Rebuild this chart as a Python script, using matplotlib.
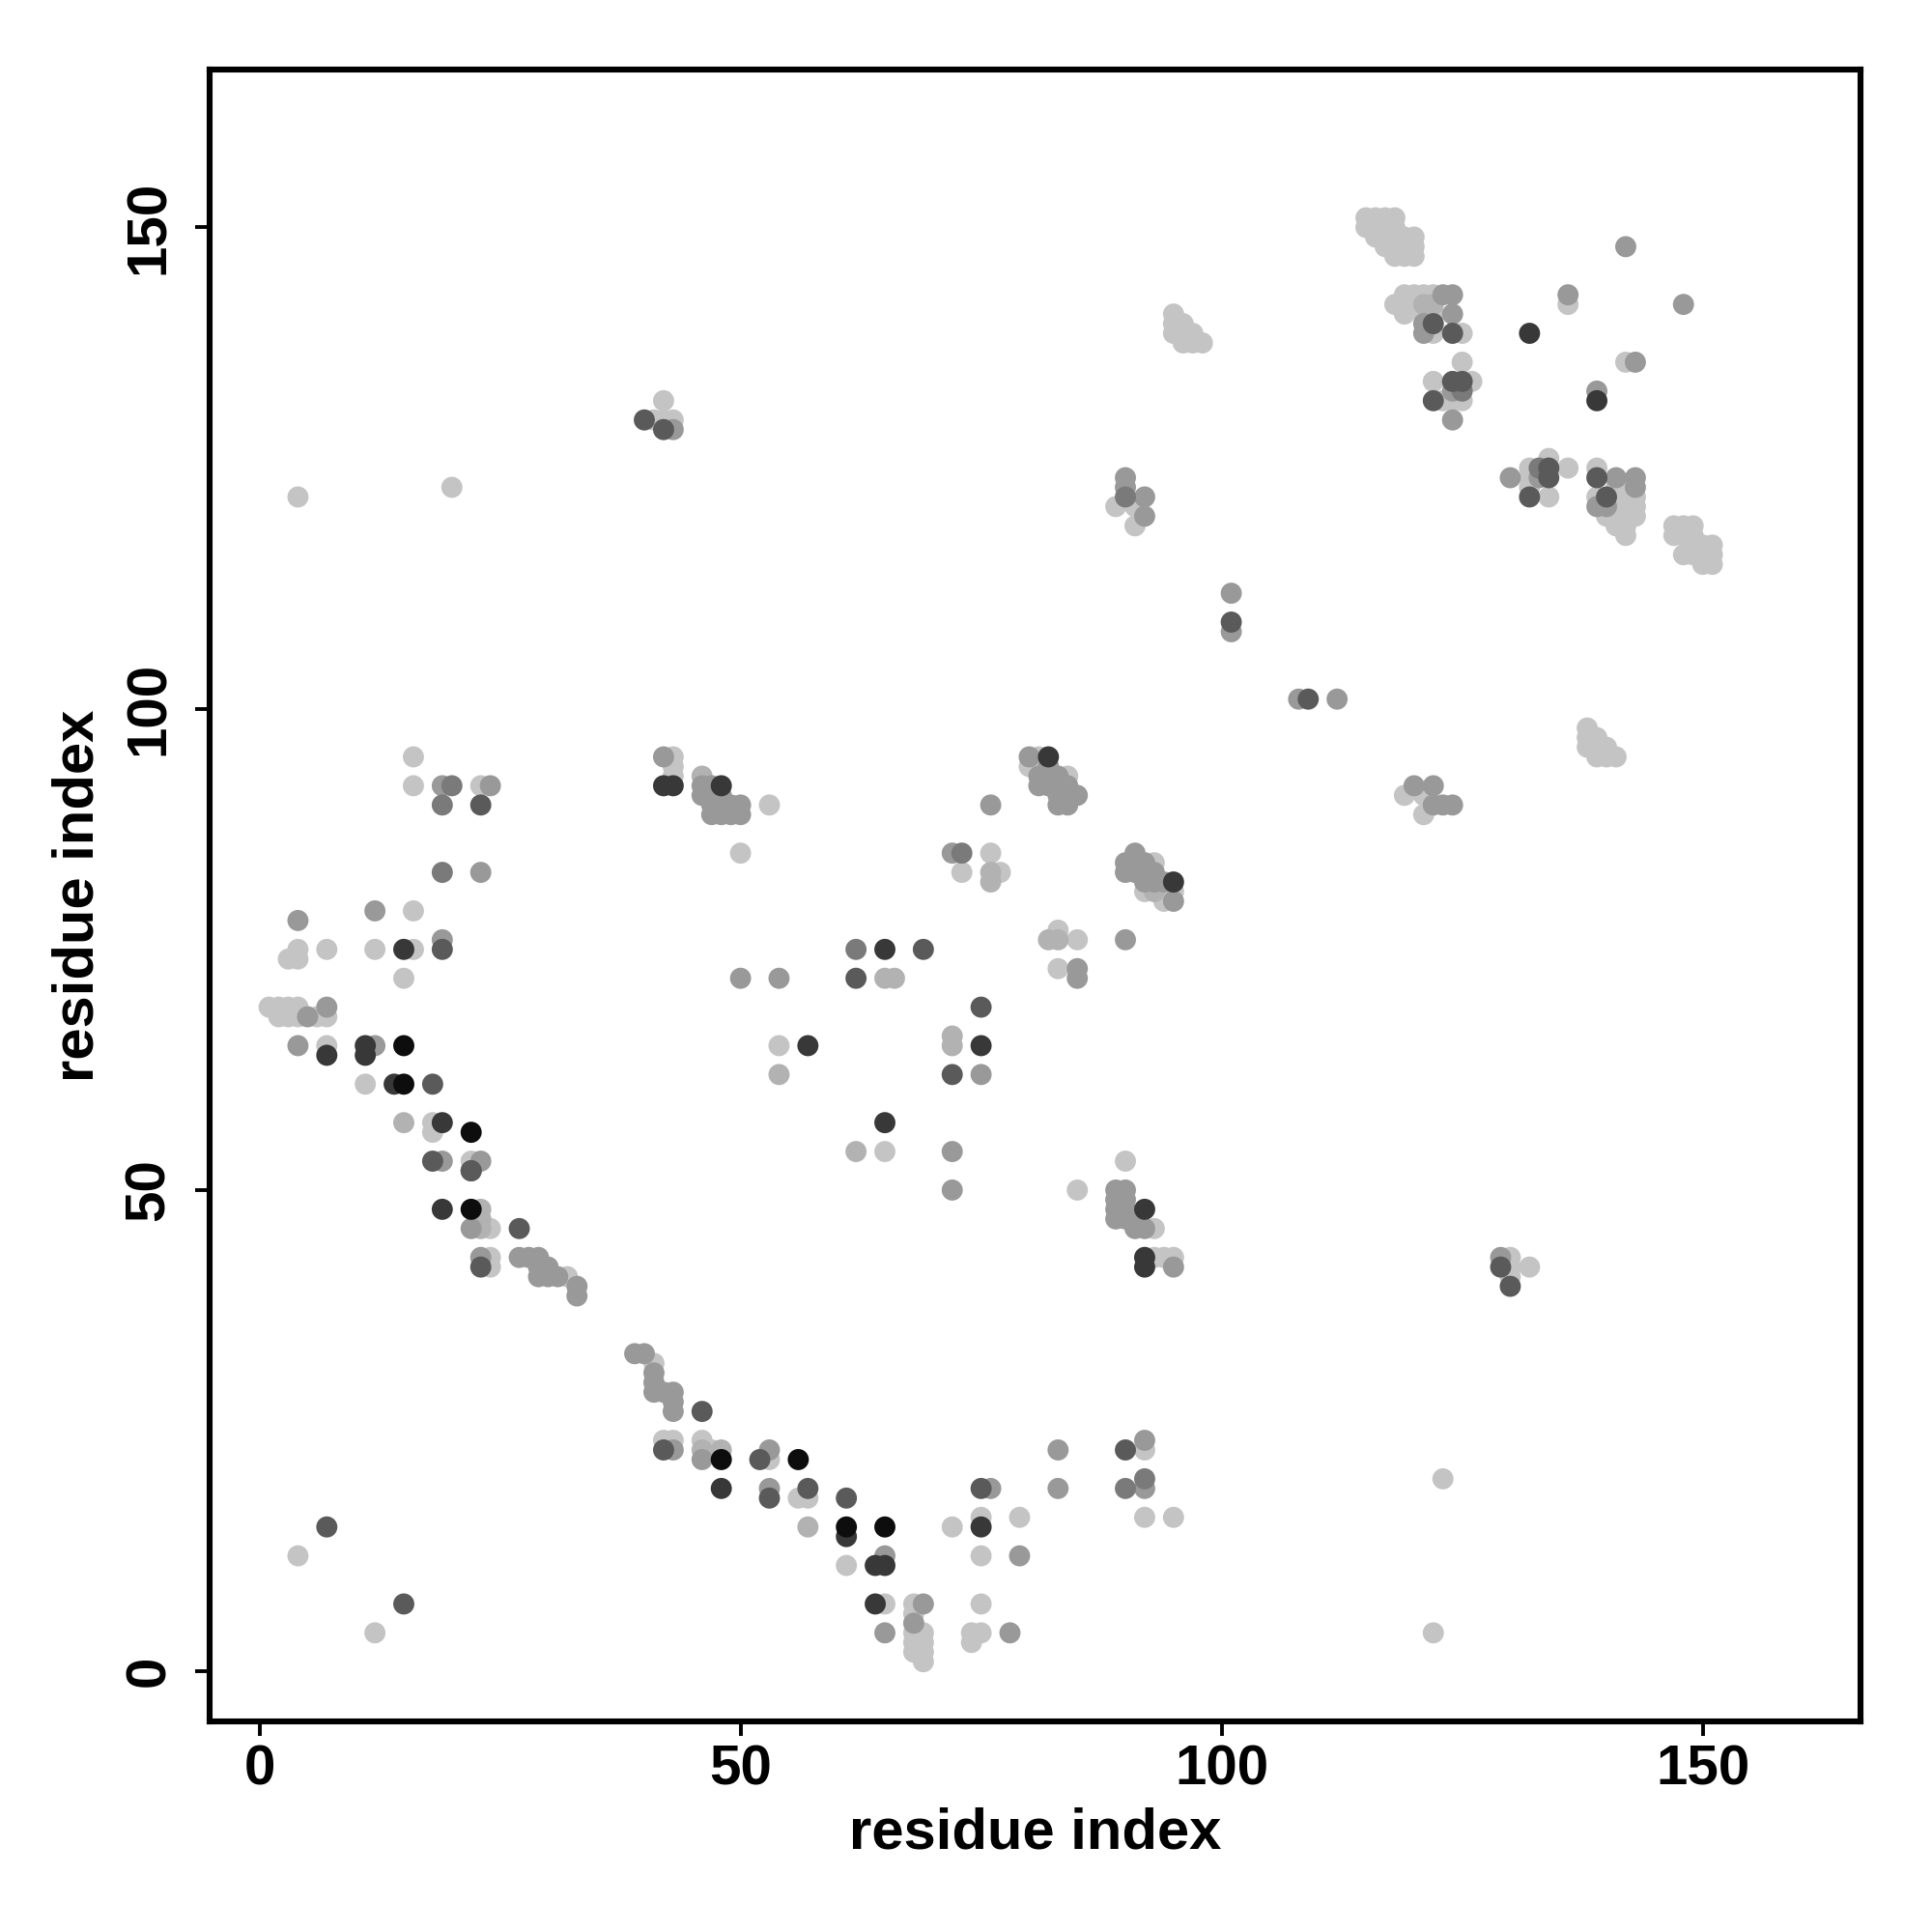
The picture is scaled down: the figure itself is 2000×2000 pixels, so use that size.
import matplotlib
matplotlib.use("Agg")
import matplotlib.pyplot as plt

# contact map: residue pairs (i, j) grouped by grey level of the point
light_i = [16, 16, 23, 16, 4, 3, 4, 7, 12, 16, 15, 1, 2, 3, 4, 2, 3, 4, 6, 7, 7, 11, 18, 18, 22, 24, 24, 24, 32,
           41, 42, 43, 46, 47, 53, 4, 12,
           56, 57, 65, 68, 68, 68, 68, 68, 69, 69, 69, 69, 72, 75, 75, 79, 75, 74, 75, 74, 92, 92, 95, 61,
           43, 43, 43, 53, 50, 81, 80, 81, 84, 76, 73, 77, 83, 85, 93, 92, 94, 95, 94, 83, 54, 65, 85, 90,
           93, 93, 94, 95,
           4, 20, 42, 41, 42, 43,
           95, 95, 95, 96, 96, 96, 97, 97, 98, 89, 91, 91, 119, 121, 121,
           115, 116, 117, 118, 115, 116, 117, 118, 116, 117, 118, 119, 120, 117, 118, 119, 120, 118, 119, 120,
           119, 120, 121, 122, 118, 119, 119, 121, 122, 122, 125, 125, 122, 126, 123, 124, 125, 136, 142,
           132, 132, 132, 134, 134, 136, 139, 139,
           141, 142, 141, 142, 143, 141, 142, 143, 140, 141, 142, 143, 141, 142, 142,
           147, 148, 149, 147, 148, 149, 149, 150, 151, 148, 149, 150, 151, 150, 151,
           138, 138, 138, 139, 139, 139, 140, 140, 141,
           130, 130, 130, 132, 123, 122]
light_j = [95, 92, 92, 79, 75, 74, 74, 75, 75, 75, 72, 69, 69, 69, 69, 68, 68, 68, 68, 68, 65, 61, 57, 56, 53, 46, 43, 42, 41,
           32, 24, 24, 24, 23, 22, 12, 4,
           18, 18, 7, 7, 6, 4, 3, 2, 4, 3, 2, 1, 15, 16, 12, 16, 7, 4, 4, 3, 23, 16, 16, 11,
           95, 94, 93, 90, 85, 95, 94, 94, 93, 85, 83, 83, 77, 76, 84, 81, 81, 81, 80, 73, 65, 54, 50, 53,
           46, 43, 43, 43,
           122, 123, 132, 130, 130, 130,
           141, 140, 139, 140, 139, 138, 139, 138, 138, 121, 121, 119, 91, 91, 89,
           151, 151, 151, 151, 150, 150, 150, 150, 149, 149, 149, 149, 149, 148, 148, 148, 148, 147, 147, 147,
           143, 143, 143, 143, 142, 142, 141, 141, 141, 139, 139, 136, 134, 134, 132, 132, 132, 142, 136,
           125, 124, 123, 126, 122, 125, 125, 122,
           123, 123, 122, 122, 122, 121, 121, 121, 120, 120, 120, 120, 119, 119, 118,
           119, 119, 119, 118, 118, 118, 117, 117, 117, 116, 116, 116, 116, 115, 115,
           98, 97, 96, 97, 96, 95, 96, 95, 95,
           43, 42, 41, 42, 20, 4]

pale_i = [15, 23, 23, 23, 57, 46, 48, 46, 76, 76, 82, 83, 65, 66, 72, 72, 54, 62, 93, 121, 122]
pale_j = [57, 48, 47, 46, 15, 23, 23, 93, 83, 82, 76, 76, 72, 72, 66, 65, 62, 54, 81, 142, 142]

mid_i = [19, 24, 23, 12, 4, 19, 5, 7, 4, 12, 19, 23, 22, 23, 27, 28, 29, 29, 30, 29, 30, 31, 33, 33,
         39, 40, 41, 41, 41, 42, 43, 43, 43, 43, 46, 53, 53,
         65, 69, 68, 65, 79, 78, 76, 83, 83, 92, 92,
         42, 46, 47, 46, 47, 48, 47, 48, 49, 50, 47, 48, 49, 50, 76, 80, 82, 81, 82, 83, 81, 82, 83, 84,
         83, 84, 85, 83, 84, 72, 91, 90, 91, 92, 90, 91, 92, 93, 92, 93, 94, 95, 90, 85, 85, 50, 54, 75,
         72, 72, 89, 90, 89, 90, 89, 90, 89, 90, 91, 91, 92, 95,
         90, 90, 92, 92, 101, 101, 108, 112, 120, 122, 122, 123, 124,
         123, 124, 124, 121, 121, 124, 136, 142, 148, 143, 139, 133, 130, 141, 143, 143, 139, 140, 124, 129, 43]
mid_j = [92, 92, 83, 79, 78, 76, 68, 69, 65, 65, 53, 53, 46, 43, 43, 43, 43, 42, 42, 41, 41, 41, 40, 39,
         33, 33, 31, 30, 29, 29, 29, 28, 27, 23, 22, 23, 19,
         12, 7, 5, 4, 12, 4, 19, 23, 19, 24, 19,
         95, 92, 92, 91, 91, 91, 90, 90, 90, 90, 89, 89, 89, 89, 90, 95, 94, 93, 93, 93, 92, 92, 92, 92,
         91, 91, 91, 90, 90, 85, 85, 84, 84, 84, 83, 83, 83, 83, 82, 82, 82, 80, 76, 73, 72, 72, 72, 62,
         54, 50, 50, 50, 49, 49, 48, 48, 47, 47, 47, 46, 46, 42,
         124, 123, 122, 120, 112, 108, 101, 101, 92, 92, 90, 90, 90,
         143, 143, 141, 140, 139, 133, 143, 148, 142, 136, 133, 124, 124, 124, 124, 123, 121, 121, 130, 43, 129]

grey_i = [20, 19, 19, 90, 92, 73, 62, 90, 125, 133]
grey_j = [92, 90, 83, 19, 20, 85, 75, 122, 133, 125]

dark_i = [23, 19, 18, 18, 22, 27, 23, 7, 15, 52, 53, 57, 61, 75, 90, 62, 69, 75, 72, 46, 42, 40, 42,
          101, 109, 122, 122, 124, 125, 124, 129, 130, 132, 139, 140, 134, 134, 22]
dark_j = [90, 75, 61, 53, 52, 46, 42, 15, 7, 22, 18, 19, 18, 19, 23, 72, 75, 69, 62, 27, 23, 130, 129,
          109, 101, 140, 132, 134, 134, 139, 42, 40, 122, 124, 122, 125, 124, 52]

vdark_i = [15, 11, 7, 11, 14, 19, 19, 42, 43, 48, 48, 61, 64, 65, 75, 65, 57, 75, 65, 82, 95, 92, 92, 92,
           132, 139, 64]
vdark_j = [75, 65, 64, 64, 61, 57, 48, 92, 92, 92, 19, 14, 11, 11, 15, 75, 65, 65, 57, 95, 82, 43, 42, 48,
           139, 132, 7]

black_i = [15, 15, 22, 22, 48, 56, 61, 65]
black_j = [65, 61, 56, 48, 22, 22, 15, 15]

groups = [
    (light_i, light_j, "#c4c4c4"),
    (pale_i, pale_j, "#b2b2b2"),
    (mid_i, mid_j, "#999999"),
    (grey_i, grey_j, "#7a7a7a"),
    (dark_i, dark_j, "#5a5a5a"),
    (vdark_i, vdark_j, "#383838"),
    (black_i, black_j, "#0d0d0d"),
]

plt.rcParams["font.family"] = ["Liberation Sans", "DejaVu Sans"]
plt.rcParams["font.weight"] = "bold"

fig = plt.figure(figsize=(10, 10), dpi=200)
ax = fig.add_axes([0.1084, 0.109, 0.8546, 0.855])

for gi, gj, col in groups:
    ax.scatter(gi, gj, s=62, c=col, edgecolors="none", zorder=2)

ax.set_xlim(-5.2, 166.4)
ax.set_ylim(-5.2, 166.4)
ax.set_xticks([0, 50, 100, 150])
ax.set_yticks([0, 50, 100, 150])
ax.tick_params(axis="both", direction="out", length=5.5, width=1.4, labelsize=21, pad=3)
ax.tick_params(axis="y", pad=7)
for lab in ax.get_yticklabels():
    lab.set_rotation(90)
    lab.set_va("center")
for sp in ax.spines.values():
    sp.set_linewidth(2.2)

ax.set_xlabel("residue index", fontsize=21.5, fontweight="bold", labelpad=4)
ax.set_ylabel("residue index", fontsize=21.5, fontweight="bold", labelpad=7)

fig.savefig("out.png", dpi=200, facecolor="white")
